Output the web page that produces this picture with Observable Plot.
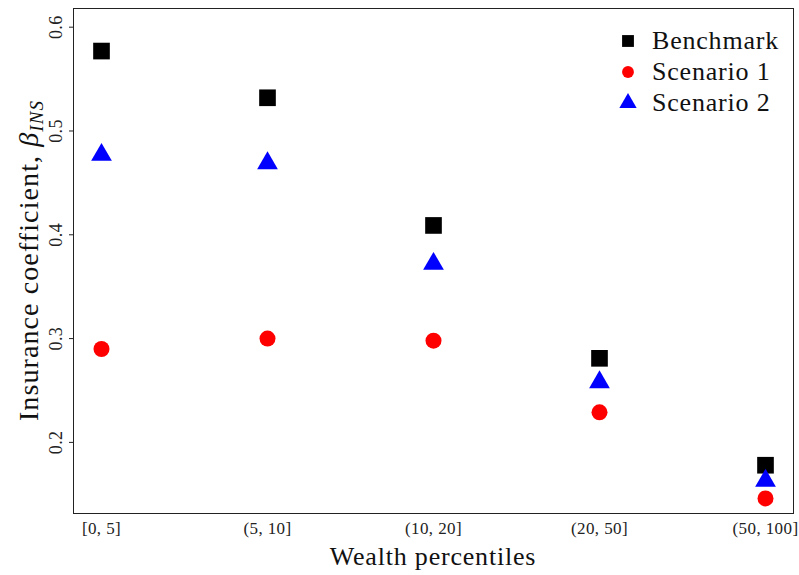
<!DOCTYPE html>
<html>
<head>
<meta charset="utf-8">
<script src="https://cdn.jsdelivr.net/npm/d3@7"></script>
<script src="https://cdn.jsdelivr.net/npm/@observablehq/plot@0.6"></script>
<style>
  html, body { margin: 0; padding: 0; background: #fff; }
  #chart svg { display: block; }
</style>
</head>
<body>
<div id="chart"></div>
<script>
const categories = ["[0, 5]", "(5, 10]", "(10, 20]", "(20, 50]", "(50, 100]"];
const benchmark = [0.577, 0.532, 0.409, 0.281, 0.178];
const scenario1 = [0.290, 0.300, 0.298, 0.229, 0.146];
const scenario2 = [0.477, 0.469, 0.372, 0.258, 0.163];
const yTicks = [0.2, 0.3, 0.4, 0.5, 0.6];
const seriesNames = ["Benchmark", "Scenario 1", "Scenario 2"];
const seriesColors = ["#000000", "#ff0000", "#0000ff"];
const seriesSymbols = ["square", "circle", "triangle"];

const font = "'Liberation Serif', 'DejaVu Serif', serif";

const rows = [];
[benchmark, scenario1, scenario2].forEach((vals, s) => {
  vals.forEach((v, i) => rows.push({cat: categories[i], value: v, series: seriesNames[s]}));
});

const W = 799, H = 575;
const mL = 73, mR = 6, mT = 8, mB = 62;

const chart = Plot.plot({
  width: W,
  height: H,
  marginLeft: mL,
  marginRight: mR,
  marginTop: mT,
  marginBottom: mB,
  style: {fontFamily: font, background: "#fff", overflow: "visible", color: "#222"},
  x: {type: "point", domain: categories, padding: 0.162},
  y: {domain: [0.1315, 0.618]},
  symbol: {domain: seriesNames, range: seriesSymbols},
  color: {domain: seriesNames, range: seriesColors},
  marks: [
    Plot.frame({stroke: "#222", strokeWidth: 1}),
    Plot.axisX({tickSize: 0, tickPadding: 8, fontSize: 17, label: null, fill: "#222"}),
    Plot.axisY({ticks: yTicks, tickSize: 4, tickPadding: 8, fontSize: 18, label: null, tickRotate: -90, fill: "#222", tickFormat: d3.format(".1f")}),
    Plot.dot(rows.filter(d => d.series === "Benchmark"), {x: "cat", y: "value", symbol: "series", fill: "series", r: 9.4}),
    Plot.dot(rows.filter(d => d.series === "Scenario 1"), {x: "cat", y: "value", symbol: "series", fill: "series", r: 8}),
    Plot.dot(rows.filter(d => d.series === "Scenario 2"), {x: "cat", y: "value", symbol: "series", fill: "series", r: 7.7})
  ]
});

const svg = d3.select(chart);
svg.selectAll("g[aria-label='x-axis tick label'] text, g[aria-label='y-axis tick label'] text")
  .attr("letter-spacing", 0.4);

// Axis titles
svg.append("text")
  .attr("x", (mL + W - mR) / 2)
  .attr("y", 565)
  .attr("text-anchor", "middle")
  .attr("font-family", font)
  .attr("font-size", 26)
  .attr("letter-spacing", 0.8)
  .attr("fill", "#111")
  .text("Wealth percentiles");

const yl = svg.append("text")
  .attr("transform", `translate(38, ${(mT + H - mB) / 2}) rotate(-90)`)
  .attr("text-anchor", "middle")
  .attr("font-family", font)
  .attr("font-size", 28)
  .attr("letter-spacing", 1.1)
  .attr("fill", "#111");
yl.append("tspan").text("Insurance coefficient, ");
yl.append("tspan").attr("font-style", "italic").text("β");
yl.append("tspan").attr("font-style", "italic").attr("font-size", 19).attr("dy", 5).text("INS");

// Legend
const leg = svg.append("g").attr("text-anchor", "start");
const legY = [41, 72, 103];
const legSizes = [140, 110, 130];
seriesNames.forEach((name, i) => {
  leg.append("path")
    .attr("transform", `translate(628, ${legY[i]})`)
    .attr("d", d3.symbol(i === 0 ? d3.symbolSquare : i === 1 ? d3.symbolCircle : d3.symbolTriangle, legSizes[i])())
    .attr("fill", seriesColors[i]);
  leg.append("text")
    .attr("x", 652)
    .attr("y", legY[i] + 8)
    .attr("text-anchor", "start")
    .attr("font-family", font)
    .attr("font-size", 26)
    .attr("letter-spacing", 0.8)
    .attr("fill", "#111")
    .text(name);
});

document.getElementById("chart").appendChild(chart);
</script>
</body>
</html>
